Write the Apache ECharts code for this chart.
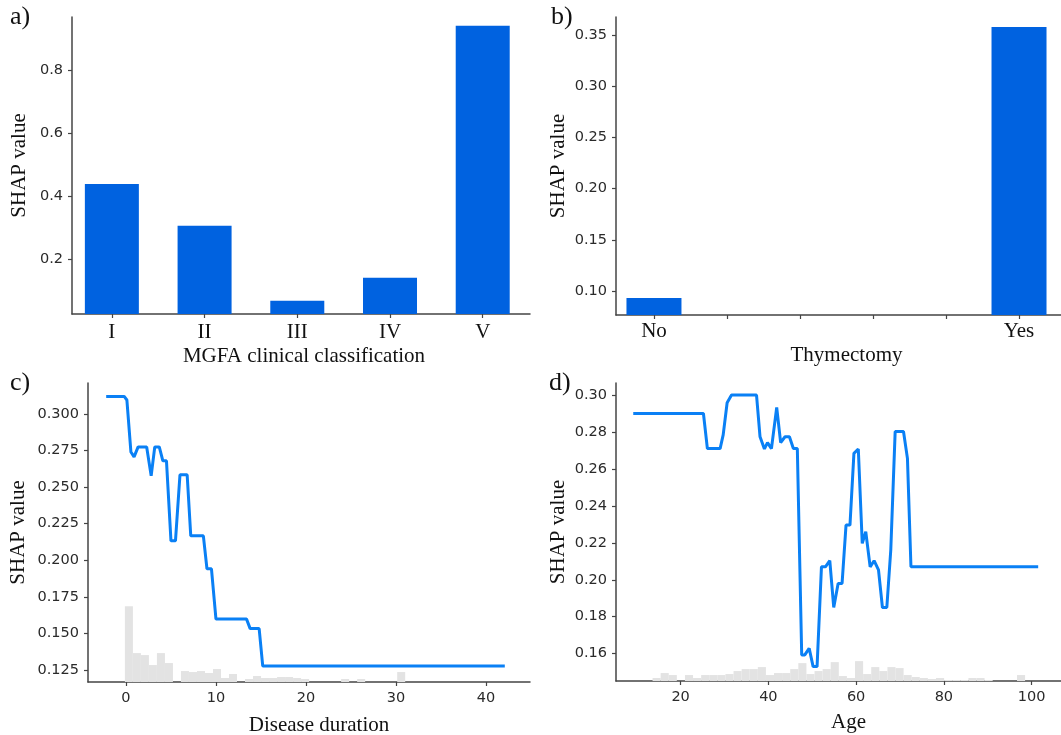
<!DOCTYPE html>
<html>
<head>
<meta charset="utf-8">
<script src="https://cdn.jsdelivr.net/npm/echarts@6/dist/echarts.min.js"></script>
<style>
  html, body { margin: 0; padding: 0; background: #fff; }
  #chart { width: 1061px; height: 735px; }
</style>
</head>
<body>
<div id="chart"></div>
<script>
// a) MGFA clinical classification
const aCategories = ['I', 'II', 'III', 'IV', 'V'];
const aValues = [0.438, 0.305, 0.067, 0.14, 0.94];
const aYTicks = [0.2, 0.4, 0.6, 0.8];

// b) Thymectomy
const bCategories = ['No', 'Yes'];
const bValues = [0.093, 0.358];
const bXTicks = [0, 0.2, 0.4, 0.6, 0.8, 1];
const bYTicks = [0.10, 0.15, 0.20, 0.25, 0.30, 0.35];

// c) Disease duration
const cX = [-2.2, -0.2, 0.1, 0.55, 0.9, 1.35, 2.3, 2.8, 3.2, 3.7, 4.1, 4.5, 5.0, 5.5, 6.0, 6.8, 7.2, 8.6, 9.0, 9.5, 10.0, 13.4, 13.8, 14.8, 15.2, 42.1];
const cY = [0.312, 0.312, 0.3096, 0.274, 0.2707, 0.2775, 0.2775, 0.2577, 0.2775, 0.2775, 0.268, 0.268, 0.2133, 0.2133, 0.2584, 0.2584, 0.2167, 0.2167, 0.1942, 0.1942, 0.1598, 0.1598, 0.1533, 0.1533, 0.1277, 0.1277];
const cXTicks = [0, 10, 20, 30, 40];
const cYTicks = [0.125, 0.150, 0.175, 0.200, 0.225, 0.250, 0.275, 0.300];
const cHistStart = -0.12;
const cHistWidth = 0.89;
const cHistCounts = [76, 29, 27, 17, 29, 19, 0, 11, 10, 11, 9, 13, 4, 8, 0, 3, 6, 4, 4, 5, 5, 4, 3, 0, 0, 0, 0, 3, 0, 3, 0, 0, 0, 0, 10];

// d) Age
const dX = [9.2, 25.2, 26.1, 29.0, 29.7, 30.6, 31.6, 37.3, 38.1, 39.1, 39.8, 40.7, 41.9, 42.8, 43.8, 44.8, 45.7, 46.6, 47.6, 48.3, 49.3, 50.2, 51.1, 52.1, 53.0, 54.0, 54.9, 55.9, 56.8, 57.7, 58.6, 59.5, 60.5, 61.4, 62.2, 63.2, 64.1, 65.1, 66.0, 67.0, 67.9, 68.9, 70.8, 71.7, 72.5, 101.5];
const dY = [0.290, 0.290, 0.271, 0.271, 0.2784, 0.2958, 0.300, 0.300, 0.2774, 0.2708, 0.2742, 0.271, 0.2933, 0.2742, 0.2774, 0.2774, 0.271, 0.271, 0.1593, 0.1593, 0.1629, 0.153, 0.153, 0.207, 0.207, 0.2103, 0.185, 0.198, 0.198, 0.2296, 0.2296, 0.2684, 0.2708, 0.2197, 0.226, 0.207, 0.2103, 0.2053, 0.185, 0.185, 0.2161, 0.2802, 0.2802, 0.2657, 0.207, 0.207];
const dXTicks = [20, 40, 60, 80, 100];
const dYTicks = [0.16, 0.18, 0.20, 0.22, 0.24, 0.26, 0.28, 0.30];
const dHistStart = 13.6;
const dHistWidth = 1.846;
const dHistCounts = [3, 8, 6, 0, 6, 3, 6, 6, 6, 7, 10, 12, 12, 14, 6, 8, 8, 12, 18, 7, 10, 12, 19, 5, 3, 20, 7, 14, 10, 14, 13, 6, 4, 3, 2, 3, 1, 1, 1, 3, 3, 1, 0, 0, 0, 6];
const histTotal = 300;

const barColor = '#0062e0';
const lineColor = '#0a80f5';
const histColor = '#e3e3e3';
const axisColor = '#444';
const serif = '"Liberation Serif", "Times New Roman", serif';
const sans = '"DejaVu Sans", sans-serif';

const chart = echarts.init(document.getElementById('chart'));

function valueAxis(grid, min, max, ticks, fmt, extra) {
    return Object.assign({
        type: 'value',
        gridIndex: grid,
        min: min,
        max: max,
        axisLine: { show: true, onZero: false, lineStyle: { color: axisColor, width: 1.5 } },
        axisTick: { show: true, length: 4, customValues: ticks, lineStyle: { color: axisColor, width: 1.2 } },
        axisLabel: { customValues: ticks, formatter: fmt, color: '#2a2a2a', fontFamily: sans, fontSize: 14.5, margin: 9 },
        splitLine: { show: false }
    }, extra || {});
}

const yName = (gap) => ({
    name: 'SHAP value',
    nameLocation: 'middle',
    nameGap: gap,
    nameTextStyle: { fontFamily: serif, fontSize: 21, color: '#111' }
});

// gap is measured to the top of the title box
const xName = (name, gap, shift) => ({
    name: name,
    nameLocation: 'middle',
    nameGap: gap,
    nameTextStyle: { fontFamily: serif, fontSize: 21, color: '#111', padding: [0, 0, 0, shift] }
});

function histData(start, width, counts) {
    return counts.map((c, k) => [start + k * width, start + (k + 1) * width, c]);
}

function renderHist(params, api) {
    const p0 = api.coord([api.value(0), 0]);
    const p1 = api.coord([api.value(1), api.value(2)]);
    return {
        type: 'rect',
        shape: { x: p0[0], y: p1[1], width: p1[0] - p0[0], height: p0[1] - p1[1] },
        style: { fill: histColor }
    };
}

const option = {
    animation: false,
    grid: [
        { left: 72, top: 17, width: 458, height: 297, outerBoundsMode: 'none' },
        { left: 616, top: 17, width: 445, height: 298, outerBoundsMode: 'none' },
        { left: 88, top: 383, width: 442, height: 299, outerBoundsMode: 'none' },
        { left: 616, top: 383, width: 445, height: 298, outerBoundsMode: 'none' }
    ],
    xAxis: [
        valueAxis(0, -0.43, 4.51, [0, 1, 2, 3, 4], v => aCategories[Math.round(v)],
            xName('MGFA clinical classification', 32, 6)),
        valueAxis(1, -0.104, 1.115, bXTicks, v => (v === 0 ? bCategories[0] : v === 1 ? bCategories[1] : ''),
            xName('Thymectomy', 30, 16)),
        valueAxis(2, -4.22, 44.9, cXTicks, v => String(v), xName('Disease duration', 33, 20)),
        valueAxis(3, 5.27, 106.7, dXTicks, v => String(v), xName('Age', 31, 20))
    ],
    yAxis: [
        valueAxis(0, 0.025, 0.968, aYTicks, v => v.toFixed(1), yName(42)),
        valueAxis(1, 0.0765, 0.3677, bYTicks, v => v.toFixed(2), yName(47)),
        valueAxis(2, 0.1168, 0.3212, cYTicks, v => v.toFixed(3), yName(59)),
        valueAxis(3, 0.1452, 0.3065, dYTicks, v => v.toFixed(2), yName(47)),
        { type: 'value', gridIndex: 2, min: 0, max: histTotal, show: false },
        { type: 'value', gridIndex: 3, min: 0, max: histTotal, show: false }
    ],
    series: [
        {
            type: 'bar', xAxisIndex: 0, yAxisIndex: 0, barWidth: 54,
            itemStyle: { color: barColor },
            data: aValues.map((v, i) => [i, v])
        },
        {
            type: 'bar', xAxisIndex: 1, yAxisIndex: 1, barWidth: 55,
            itemStyle: { color: barColor },
            data: bValues.map((v, i) => [i, v])
        },
        {
            type: 'custom', xAxisIndex: 2, yAxisIndex: 4, z: 1,
            renderItem: renderHist,
            data: histData(cHistStart, cHistWidth, cHistCounts)
        },
        {
            type: 'line', xAxisIndex: 2, yAxisIndex: 2, z: 3, symbol: 'none',
            lineStyle: { color: lineColor, width: 3 },
            data: cX.map((x, i) => [x, cY[i]])
        },
        {
            type: 'custom', xAxisIndex: 3, yAxisIndex: 5, z: 1,
            renderItem: renderHist,
            data: histData(dHistStart, dHistWidth, dHistCounts)
        },
        {
            type: 'line', xAxisIndex: 3, yAxisIndex: 3, z: 3, symbol: 'none',
            lineStyle: { color: lineColor, width: 3 },
            data: dX.map((x, i) => [x, dY[i]])
        }
    ],
    graphic: [
        { type: 'text', left: 10, top: 4, style: { text: 'a)', font: '26px ' + serif, fill: '#111' } },
        { type: 'text', left: 551, top: 4, style: { text: 'b)', font: '26px ' + serif, fill: '#111' } },
        { type: 'text', left: 10, top: 370, style: { text: 'c)', font: '26px ' + serif, fill: '#111' } },
        { type: 'text', left: 549, top: 370, style: { text: 'd)', font: '26px ' + serif, fill: '#111' } }
    ]
};

// category tick labels use the serif face like the original
option.xAxis[0].axisLabel = Object.assign({}, option.xAxis[0].axisLabel, { fontFamily: serif, fontSize: 21, color: '#111', margin: 8 });
option.xAxis[1].axisLabel = Object.assign({}, option.xAxis[1].axisLabel, { fontFamily: serif, fontSize: 21, color: '#111', margin: 6 });

chart.setOption(option);
</script>
</body>
</html>
